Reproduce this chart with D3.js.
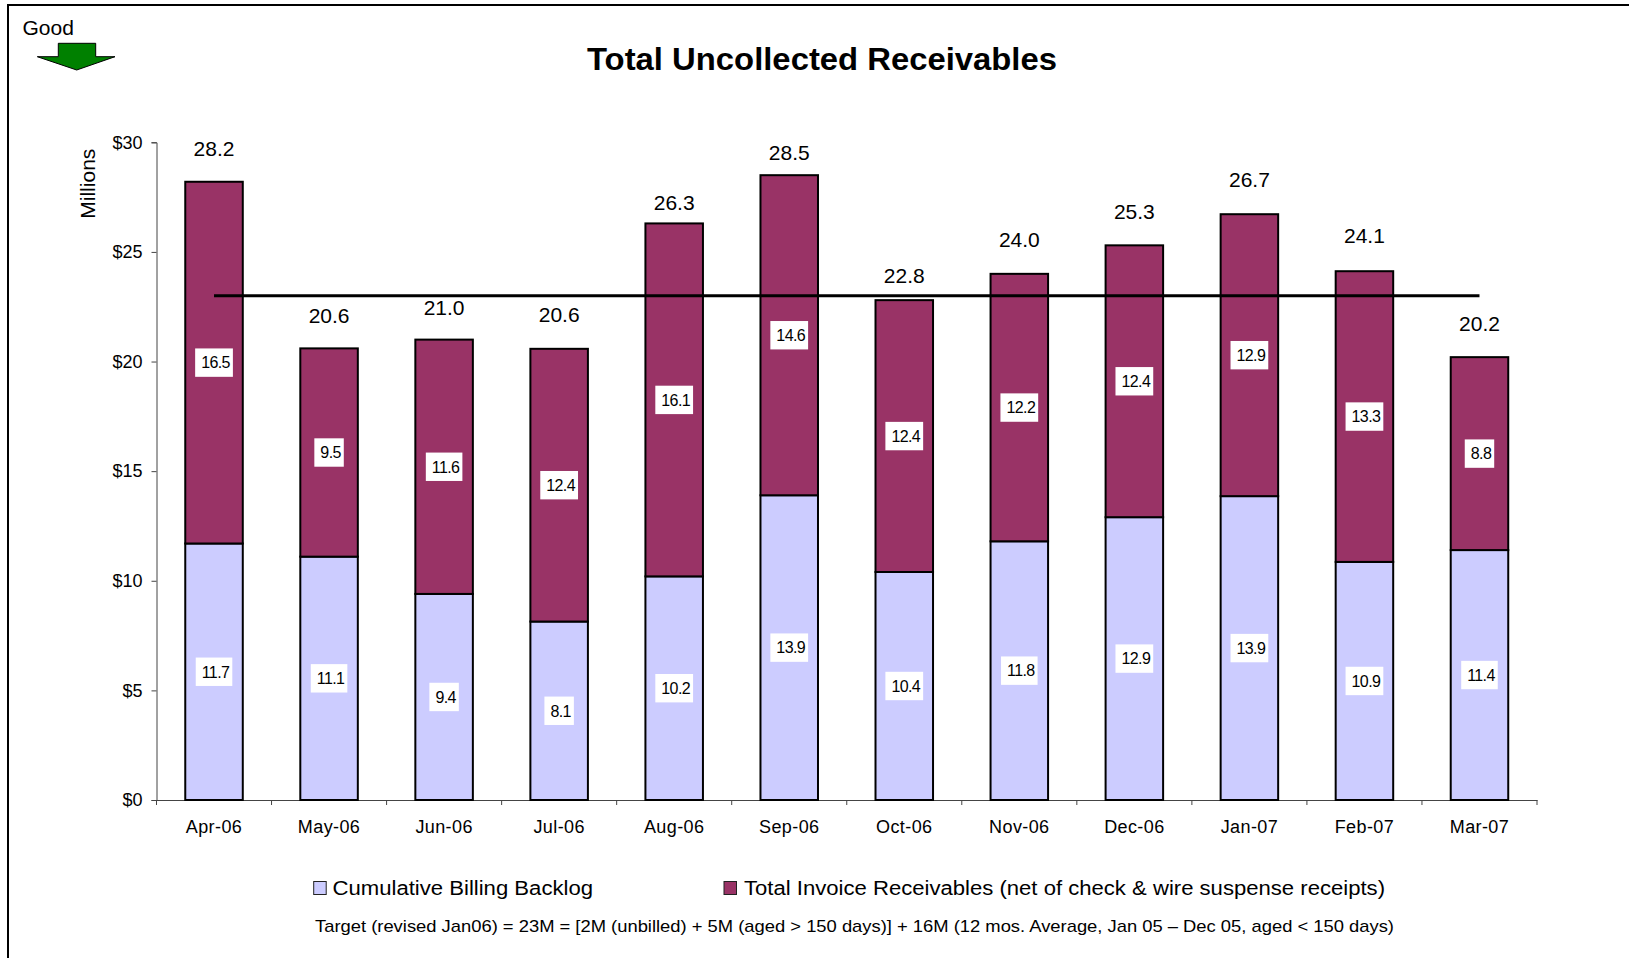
<!DOCTYPE html>
<html><head><meta charset="utf-8">
<script src="https://cdn.jsdelivr.net/npm/d3@7"></script>
<style>
body{margin:0;background:#fff}
svg{display:block;font-family:"Liberation Sans",Arial,Helvetica,sans-serif}
</style>
</head><body>
<svg id="c" width="1629" height="958"></svg>
<script>
// ---- data ----
const months = ["Apr-06","May-06","Jun-06","Jul-06","Aug-06","Sep-06","Oct-06","Nov-06","Dec-06","Jan-07","Feb-07","Mar-07"];
const backlog = [11.7,11.1,9.4,8.14,10.2,13.9,10.4,11.8,12.9,13.86,10.86,11.4];
const invoice = [16.5,9.5,11.6,12.44,16.1,14.6,12.4,12.2,12.4,12.86,13.26,8.8];
const totals  = [28.2,20.6,21.0,20.6,26.3,28.5,22.8,24.0,25.3,26.7,24.1,20.2];
const target = 23;
const yTicks = [0,5,10,15,20,25,30];
const seriesNames = ["Cumulative Billing Backlog","Total Invoice Receivables (net of check & wire suspense receipts)"];
const titleText = "Total Uncollected Receivables";
const footnote = "Target (revised Jan06) = 23M = [2M (unbilled) + 5M (aged > 150 days)] + 16M (12 mos. Average, Jan 05 \u2013 Dec 05, aged < 150 days)";

// ---- layout / style ----
const colors = ["#CCCCFF","#993366"];
const labelGap = [26,25,25,27,13,15,17,27,26,27,28,26]; // px gap between bar top and total label baseline

const svg = d3.select("#c");
const x = d3.scaleBand().domain(months).range([156.5,1537]).paddingInner(0.5).paddingOuter(0.25);
const y = d3.scaleLinear().domain([0,30]).range([800,142.3]);

// frame
svg.append("rect").attr("x",8).attr("y",5).attr("width",1700).attr("height",1000)
  .attr("fill","none").attr("stroke","#000").attr("stroke-width",2);

// Good arrow
svg.append("text").attr("x",22.5).attr("y",35).attr("font-size",21).text("Good");
svg.append("path")
  .attr("d","M58.3,43.3 L95.7,43.3 L95.7,56.7 L115,56.7 L76.7,70 L37.3,56.7 L58.3,56.7 Z")
  .attr("fill","#008000").attr("stroke","#000").attr("stroke-width",1);

// title
svg.append("text").attr("x",822).attr("y",70).attr("text-anchor","middle")
  .attr("font-size",32).attr("font-weight","bold")
  .attr("textLength",470).attr("lengthAdjust","spacingAndGlyphs").text(titleText);

// y axis
const yAxis = svg.append("g").attr("transform","translate(156.5,0)")
  .call(d3.axisLeft(y).tickValues(yTicks).tickFormat(d=>"$"+d).tickSize(5).tickPadding(9));
yAxis.selectAll("text").attr("font-size",18).attr("fill","#000").attr("font-family","Liberation Sans, Arial");
yAxis.selectAll("line").attr("stroke","#444");
yAxis.select(".domain").attr("stroke","#444");

svg.append("text").attr("transform","translate(95,183.7) rotate(-90)")
  .attr("text-anchor","middle").attr("font-size",21).text("Millions");

// x axis (labels only) + boundary ticks
const xAxis = svg.append("g").attr("transform","translate(0,800)")
  .call(d3.axisBottom(x).tickSize(0).tickPadding(20));
xAxis.selectAll("text").attr("font-size",18).attr("fill","#000").attr("letter-spacing","0.4").attr("font-family","Liberation Sans, Arial");
xAxis.select(".domain").attr("stroke","#444");
const gapHalf = (x.step()-x.bandwidth())/2;
const boundaries = months.map(m => x(m)-gapHalf).concat([x(months[months.length-1])+x.bandwidth()+gapHalf]);
svg.append("g").selectAll("line").data(boundaries).join("line")
  .attr("x1",d=>d).attr("x2",d=>d).attr("y1",800).attr("y2",805).attr("stroke","#444");

// stacked bars
const rows = months.map((m,i)=>({month:m, backlog:backlog[i], invoice:invoice[i]}));
const stack = d3.stack().keys(["backlog","invoice"])(rows);
const layers = svg.append("g").selectAll("g").data(stack).join("g").attr("fill",(d,i)=>colors[i]);
layers.selectAll("rect").data(d=>d).join("rect")
  .attr("x",d=>x(d.data.month)).attr("width",x.bandwidth())
  .attr("y",d=>y(d[1])).attr("height",d=>y(d[0])-y(d[1]))
  .attr("stroke","#000").attr("stroke-width",2);

// target line
svg.append("line")
  .attr("x1",x(months[0])+x.bandwidth()/2).attr("x2",x(months[months.length-1])+x.bandwidth()/2)
  .attr("y1",y(target)).attr("y2",y(target)).attr("stroke","#000").attr("stroke-width",3);

// segment labels
const segG = svg.append("g");
stack.forEach(layer=>{
  layer.forEach(d=>{
    const cx = x(d.data.month)+x.bandwidth()/2;
    const cy = (y(d[0])+y(d[1]))/2;
    const val = d[1]-d[0];
    const g = segG.append("g");
    const r = g.append("rect").attr("fill","#fff");
    const t = g.append("text").attr("x",cx+1.5).attr("y",cy+5.8).attr("text-anchor","middle")
      .attr("font-family","Liberation Sans Narrow, Liberation Sans, Arial").attr("font-size",16)
      .attr("letter-spacing","-0.6").text(val.toFixed(1));
    const w = t.node().getComputedTextLength()+9;
    r.attr("x",cx-w/2).attr("y",cy-14.2).attr("width",w).attr("height",28.4);
  });
});

// total labels
svg.append("g").selectAll("text").data(months).join("text")
  .attr("x",m=>x(m)+x.bandwidth()/2)
  .attr("y",(m,i)=>y(backlog[i]+invoice[i])-labelGap[i])
  .attr("text-anchor","middle").attr("font-size",21)
  .text((m,i)=>totals[i].toFixed(1));

// legend
const leg = [{x:313.7,tx:332.5,w:260.5},{x:724,tx:744,w:641}];
leg.forEach((l,i)=>{
  svg.append("rect").attr("x",l.x).attr("y",881.5).attr("width",12.5).attr("height",13)
    .attr("fill",colors[i]).attr("stroke","#222").attr("stroke-width",1);
  svg.append("text").attr("x",l.tx).attr("y",894.5).attr("font-size",20)
    .attr("textLength",l.w).attr("lengthAdjust","spacingAndGlyphs").text(seriesNames[i]);
});
svg.append("text").attr("x",315).attr("y",932).attr("font-size",17)
  .attr("textLength",1079).attr("lengthAdjust","spacingAndGlyphs").text(footnote);
</script>
</body></html>
